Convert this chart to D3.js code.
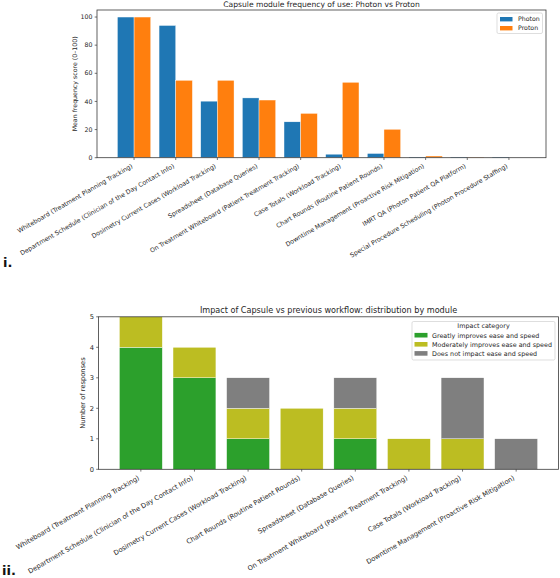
<!DOCTYPE html>
<html><head><meta charset="utf-8">
<script src="https://cdn.jsdelivr.net/npm/d3@7"></script>
<style>body{margin:0;background:#fff}svg{display:block;font-family:"DejaVu Sans",sans-serif}</style>
</head><body>
<svg id="chart" width="560" height="578"></svg>
<script>
// ---------- Data: chart i ----------
const freqCategories = [
  "Whiteboard (Treatment Planning Tracking)",
  "Department Schedule (Clinician of the Day Contact Info)",
  "Dosimetry Current Cases (Workload Tracking)",
  "Spreadsheet (Database Queries)",
  "On Treatment Whiteboard (Patient Treatment Tracking)",
  "Case Totals (Workload Tracking)",
  "Chart Rounds (Routine Patient Rounds)",
  "Downtime Management (Proactive Risk Mitigation)",
  "IMRT QA (Photon Patient QA Platform)",
  "Special Procedure Scheduling (Photon Procedure Staffing)"
];
const photonValues = [100, 94, 40.2, 42.5, 25.5, 2.5, 3, 0.5, 0.5, 0.5];
const protonValues = [100, 55, 55, 41, 31.5, 53.6, 20.2, 1.2, 0.3, 0];
const freqSeries = ["Photon", "Proton"];
const freqTicks = [0, 20, 40, 60, 80, 100];

// ---------- Data: chart ii ----------
const impactCategories = [
  "Whiteboard (Treatment Planning Tracking)",
  "Department Schedule (Clinician of the Day Contact Info)",
  "Dosimetry Current Cases (Workload Tracking)",
  "Chart Rounds (Routine Patient Rounds)",
  "Spreadsheet (Database Queries)",
  "On Treatment Whiteboard (Patient Treatment Tracking)",
  "Case Totals (Workload Tracking)",
  "Downtime Management (Proactive Risk Mitigation)"
];
const impactSeries = ["Greatly improves ease and speed", "Moderately improves ease and speed", "Does not impact ease and speed"];
const greatlyValues    = [4, 3, 1, 0, 1, 0, 0, 0];
const moderatelyValues = [1, 1, 1, 2, 1, 1, 1, 0];
const noImpactValues   = [0, 0, 1, 0, 1, 0, 2, 1];
const countTicks = [0, 1, 2, 3, 4, 5];

const svg = d3.select("#chart");
const TXT = "#262626", AX = "#3a3a3a";

function frame(g, x0, x1, y0, y1) {
  g.append("rect").attr("x", x0).attr("y", y1).attr("width", x1 - x0).attr("height", y0 - y1)
    .attr("fill", "none").attr("stroke", AX).attr("stroke-width", 0.8);
}
function yAxis(g, y, ticks, xLeft, fs) {
  ticks.forEach(t => {
    g.append("line").attr("x1", xLeft - 2.3).attr("x2", xLeft).attr("y1", y(t)).attr("y2", y(t)).attr("stroke", AX).attr("stroke-width", 0.7);
    g.append("text").attr("x", xLeft - 4.6).attr("y", y(t)).attr("dy", "0.34em").attr("text-anchor", "end")
      .attr("font-size", fs).attr("fill", TXT).text(t);
  });
}
function xAxis(g, x, cats, yBase, fs) {
  cats.forEach((c, i) => {
    const px = x(i);
    g.append("line").attr("x1", px).attr("x2", px).attr("y1", yBase).attr("y2", yBase + 2.3).attr("stroke", AX).attr("stroke-width", 0.7);
    g.append("text").attr("transform", `translate(${px - 0.15 * fs},${yBase + 4.6 + 0.8 * fs}) rotate(-30)`)
      .attr("text-anchor", "end").attr("font-size", fs).attr("fill", TXT).text(c);
  });
}

// ================= Chart i =================
{
  const g = svg.append("g");
  const L = 97, R = 546, B = 157.7, T = 10;
  const fs = 6.25;
  const x = d3.scaleLinear().domain([-0.89, 9.89]).range([L, R]);
  const y = d3.scaleLinear().domain([0, 105]).range([B, T]);
  const colors = ["#1f77b4", "#ff7f0e"];
  const series = [photonValues, protonValues];
  series.forEach((vals, s) => {
    g.append("g").selectAll("rect").data(vals).join("rect")
      .attr("x", (d, i) => x(i - 0.4 + 0.4 * s))
      .attr("width", x(0.4) - x(0))
      .attr("y", d => y(d))
      .attr("height", d => y(0) - y(d))
      .attr("fill", colors[s]).attr("stroke", "#fff").attr("stroke-width", 0.4);
  });
  frame(g, L, R, B, T);
  yAxis(g, y, freqTicks, L, fs);
  xAxis(g, x, freqCategories, B, fs);
  g.append("text").attr("x", (L + R) / 2).attr("y", 7).attr("text-anchor", "middle")
    .attr("font-size", 7.6).attr("fill", TXT).text("Capsule module frequency of use: Photon vs Proton");
  g.append("text").attr("transform", `translate(77,${(T + B) / 2}) rotate(-90)`).attr("text-anchor", "middle")
    .attr("font-size", fs).attr("fill", TXT).text("Mean frequency score (0\u2013100)");
  // legend
  const lg = g.append("g");
  lg.append("rect").attr("x", 497).attr("y", 13).attr("width", 45.5).attr("height", 20.5).attr("rx", 1.5)
    .attr("fill", "#fff").attr("fill-opacity", 0.8).attr("stroke", "#d0d0d0").attr("stroke-width", 0.7);
  freqSeries.forEach((name, i) => {
    const cy = 19.2 + i * 9;
    lg.append("rect").attr("x", 500).attr("y", cy - 2.2).attr("width", 12.5).attr("height", 4.4).attr("fill", colors[i]);
    lg.append("text").attr("x", 518).attr("y", cy).attr("dy", "0.36em").attr("font-size", fs).attr("fill", TXT).text(name);
  });
  svg.append("text").attr("x", 3).attr("y", 267).attr("font-size", 13).attr("font-weight", "bold").attr("fill", "#111").text("i.");
}

// ================= Chart ii =================
{
  const g = svg.append("g");
  const L = 98.5, R = 558.5, B = 469.3, T = 316.8;
  const fs = 6.7, lfs = 6.4;
  const x = d3.scaleLinear().domain([-0.79, 7.79]).range([L, R]);
  const y = d3.scaleLinear().domain([0, 5]).range([B, T]);
  const colors = ["#2ca02c", "#bcbd22", "#7f7f7f"];
  const rows = impactCategories.map((c, i) => ({ i, g0: greatlyValues[i], g1: moderatelyValues[i], g2: noImpactValues[i] }));
  const stack = d3.stack().keys(["g0", "g1", "g2"])(rows);
  stack.forEach((layer, s) => {
    g.append("g").selectAll("rect").data(layer.filter(d => d[1] > d[0])).join("rect")
      .attr("x", d => x(d.data.i - 0.4))
      .attr("width", x(0.8) - x(0))
      .attr("y", d => y(d[1]))
      .attr("height", d => y(d[0]) - y(d[1]))
      .attr("fill", colors[s]).attr("stroke", "#fff").attr("stroke-width", 0.4);
  });
  frame(g, L, R, B, T);
  yAxis(g, y, countTicks, L, fs);
  xAxis(g, x, impactCategories, B, fs);
  g.append("text").attr("x", (L + R) / 2).attr("y", 313.3).attr("text-anchor", "middle")
    .attr("font-size", 8.1).attr("fill", TXT).text("Impact of Capsule vs previous workflow: distribution by module");
  g.append("text").attr("transform", `translate(85,${(T + B) / 2}) rotate(-90)`).attr("text-anchor", "middle")
    .attr("font-size", fs).attr("fill", TXT).text("Number of responses");
  const lg = g.append("g");
  lg.append("rect").attr("x", 412).attr("y", 321.5).attr("width", 143).attr("height", 38.5).attr("rx", 1.5)
    .attr("fill", "#fff").attr("fill-opacity", 0.8).attr("stroke", "#d0d0d0").attr("stroke-width", 0.7);
  lg.append("text").attr("x", 483.5).attr("y", 326).attr("dy", "0.36em").attr("text-anchor", "middle")
    .attr("font-size", lfs).attr("fill", TXT).text("Impact category");
  impactSeries.forEach((name, i) => {
    const cy = 335.2 + i * 9.1;
    lg.append("rect").attr("x", 414.5).attr("y", cy - 2.3).attr("width", 13).attr("height", 4.6).attr("fill", colors[i]);
    lg.append("text").attr("x", 432).attr("y", cy).attr("dy", "0.36em").attr("font-size", lfs).attr("fill", TXT).text(name);
  });
  svg.append("text").attr("x", 2).attr("y", 575).attr("font-size", 13).attr("font-weight", "bold").attr("fill", "#111").text("ii.");
}
</script>
</body></html>
